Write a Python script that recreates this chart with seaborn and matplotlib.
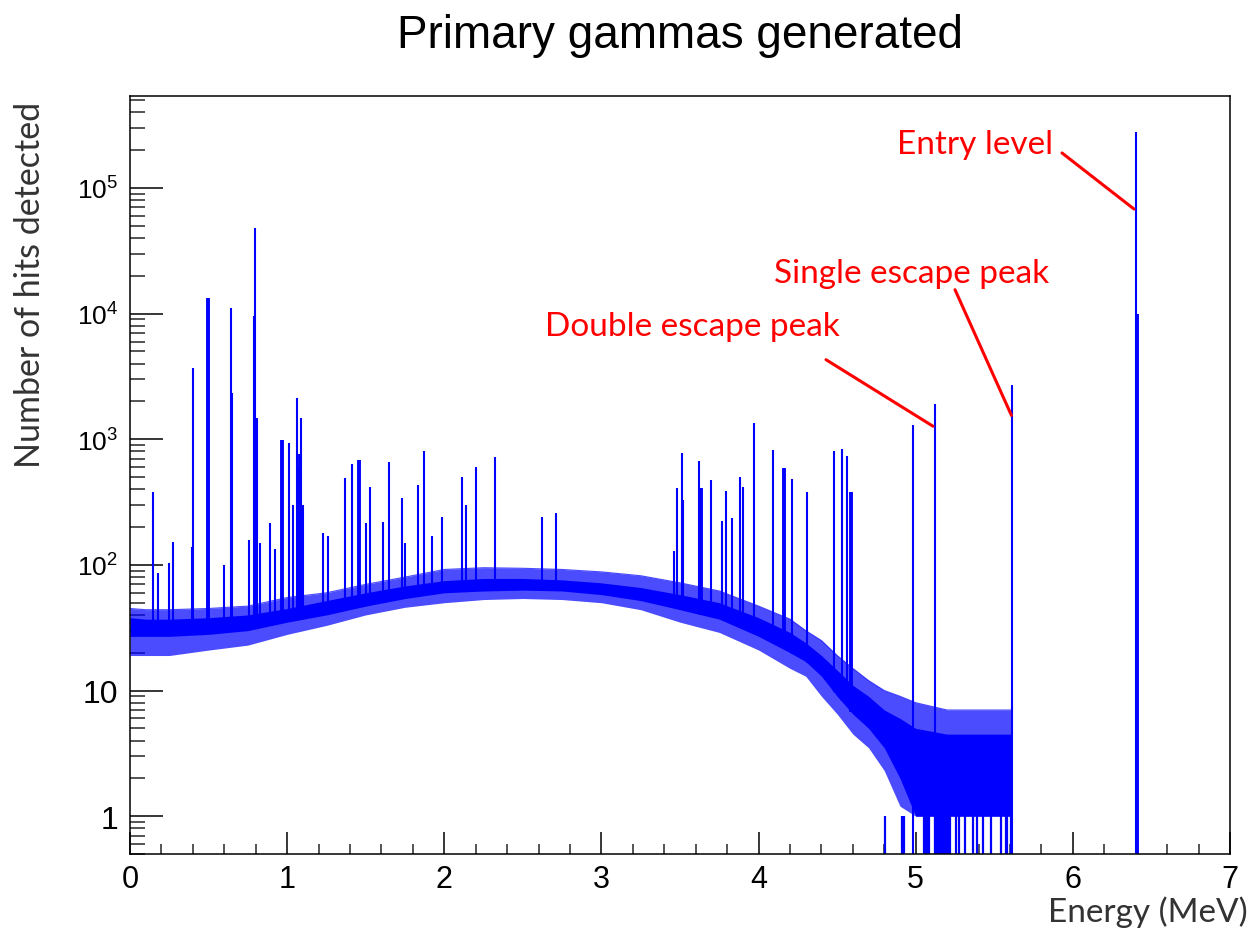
import numpy as np
import matplotlib
matplotlib.use("Agg")
import matplotlib.pyplot as plt
import seaborn as sns
from matplotlib.ticker import FixedLocator, FixedFormatter, NullFormatter, LogLocator

# ---------------- data ----------------
cont_energy = [0.0, 0.1, 0.25, 0.5, 0.75, 1.0, 1.25, 1.5, 1.75, 2.0, 2.25, 2.5, 2.75,
               3.0, 3.25, 3.5, 3.75, 4.0, 4.2, 4.3, 4.4, 4.5, 4.6, 4.7, 4.8, 4.9,
               5.0, 5.2, 5.4, 5.61]
cont_outer_high = [45, 44, 44, 45, 47, 55, 60, 70, 80, 92, 95, 94, 92, 88, 82, 72, 62,
                   47, 37, 30, 25, 19, 15, 12, 10, 9, 8, 7, 7, 7]
cont_core_high = [38, 37, 37, 38, 40, 45, 52, 60, 68, 75, 78, 78, 76, 72, 66, 58, 50,
                  38, 29, 24, 19, 14.5, 11, 9, 7, 6, 5, 4.5, 4.5, 4.5]
cont_core_low = [27, 27, 27, 28, 30, 35, 40, 47, 54, 60, 62, 63, 62, 58, 52, 44, 37,
                 27, 20, 17, 13, 9, 6.5, 5, 3.5, 2, 1, 1, 1, 1]
cont_outer_low = [19, 19, 19, 21, 23, 28, 33, 40, 46, 50, 53, 54, 53, 50, 44, 35, 29,
                  21, 15, 13, 9, 6.5, 4.5, 3.5, 2.3, 1.2, 1, 1, 1, 1]

line_energy = [0.148, 0.178, 0.25, 0.274, 0.395, 0.40, 0.60, 0.642, 0.652, 0.757, 0.786,
               0.796, 0.806, 0.83, 0.89, 0.92, 1.01, 1.04, 1.06, 1.07, 1.09, 1.10,
               1.23, 1.26, 1.37, 1.41, 1.50, 1.53, 1.61, 1.65, 1.73, 1.75, 1.83, 1.87,
               1.92, 1.985, 2.11, 2.14, 2.20, 2.32, 2.62, 2.71, 3.46, 3.48, 3.51, 3.52,
               3.62, 3.70, 3.77, 3.79, 3.83, 3.88, 3.90, 3.97, 4.09, 4.21, 4.31, 4.48,
               4.53, 4.56, 4.98, 5.12, 5.613, 6.40]
line_counts = [380, 86, 104, 152, 140, 3700, 100, 11000, 2350, 158, 9600,
               48000, 1470, 150, 215, 135, 940, 300, 2150, 600, 1470, 300,
               180, 170, 490, 640, 215, 415, 220, 660, 340, 150, 430, 800,
               170, 240, 500, 300, 600, 720, 240, 260, 130, 410, 780, 330,
               670, 470, 225, 390, 235, 500, 415, 1340, 820, 480, 380, 800,
               840, 740, 1300, 1900, 2700, 280000]

doublet_energy = [0.497, 0.965, 1.08, 1.46, 3.635, 4.16, 4.59, 6.405]
doublet_counts = [13400, 980, 770, 680, 410, 590, 380, 10000]

empty_bin_energy = [4.805, 4.914, 4.928, 5.052, 5.062, 5.072, 5.084, 5.125, 5.135,
                    5.145, 5.155, 5.165, 5.175, 5.185, 5.195, 5.205, 5.218, 5.254,
                    5.275, 5.314, 5.367, 5.393, 5.430, 5.477, 5.541, 5.573, 5.580,
                    5.605]

x_ticks = [0, 1, 2, 3, 4, 5, 6, 7]
y_ticks = [1, 10, 100, 1000, 10000, 100000]
y_tick_labels = ["1", "10", r"$10^{2}$", r"$10^{3}$", r"$10^{4}$", r"$10^{5}$"]

title = "Primary gammas generated"
x_label = "Energy (MeV)"
y_label = "Number of hits detected"

# ---------------- styling ----------------
sns.set_theme(style="ticks")
plt.rcParams["font.family"] = ["Liberation Sans", "DejaVu Sans"]
plt.rcParams["mathtext.fontset"] = "custom"
plt.rcParams["mathtext.rm"] = "Liberation Sans"
plt.rcParams["mathtext.it"] = "Liberation Sans:italic"

BLUE = "#0000FF"
RED = "#FF0000"
YMIN, YMAX = 0.5, 5.4e5

fig = plt.figure(figsize=(12.6, 9.37), dpi=100)
ax = fig.add_axes([0.1032, 0.0875, 0.873, 0.809])
ax.set_yscale("log")
ax.set_xlim(0, 7)
ax.set_ylim(YMIN, YMAX)

# continuum band
ax.fill_between(cont_energy, cont_outer_low, cont_outer_high, color=BLUE, alpha=0.7,
                linewidth=0)
ax.fill_between(cont_energy, cont_core_low, cont_core_high, color=BLUE, linewidth=0)
sns.lineplot(x=cont_energy, y=cont_outer_high, ax=ax, color=BLUE, linewidth=0.8,
             alpha=0.7)

# empty bins (zero counts) drawn down to the axis
ax.vlines(empty_bin_energy, YMIN, 1, color=BLUE, linewidth=1.6)

# peak lines
def base_for(e):
    if e >= 4.9:
        return YMIN
    return float(np.interp(e, cont_energy, cont_core_low))

ax.vlines(line_energy, [base_for(e) for e in line_energy], line_counts,
          color=BLUE, linewidth=1.5)
ax.vlines(doublet_energy, [base_for(e) for e in doublet_energy], doublet_counts,
          color=BLUE, linewidth=2.8)

# axes, ticks
for s in ax.spines.values():
    s.set_color("black")
    s.set_linewidth(1.1)
ax.xaxis.set_major_locator(FixedLocator(x_ticks))
ax.xaxis.set_minor_locator(FixedLocator(np.arange(0, 7.001, 0.2)))
ax.yaxis.set_major_locator(FixedLocator(y_ticks))
ax.yaxis.set_major_formatter(FixedFormatter(y_tick_labels))
ax.yaxis.set_minor_locator(LogLocator(base=10, subs=np.arange(2, 10), numticks=20))
ax.yaxis.set_minor_formatter(NullFormatter())
ax.tick_params(axis="x", which="major", direction="in", length=16, width=1.1,
               labelsize=22, pad=7, colors="black", top=False, bottom=True)
ax.tick_params(axis="x", which="minor", direction="in", length=7.5, width=1.1,
               top=False, bottom=True)
ax.tick_params(axis="y", which="major", direction="in", length=24, width=1.1,
               labelsize=23, pad=8.5, colors="black", left=True, right=False)
ax.tick_params(axis="y", which="minor", direction="in", length=11, width=1.1,
               left=True, right=False)
ax.grid(False)
fig.canvas.draw()
for lab in ax.get_yticklabels():
    if lab.get_text().startswith("$"):
        lab.set_fontsize(19)

# labels
fig.text(0.54, 0.962, title, ha="center", va="center", fontsize=33, color="black")
fig.text(0.911, 0.026, x_label, ha="center", va="center", fontsize=24,
         color="#333333", family=["Lato", "DejaVu Sans"])
fig.text(0.024, 0.696, y_label, ha="center", va="center", fontsize=24.5, rotation=90,
         color="#333333", family=["Lato", "DejaVu Sans"])

# annotations
ann_kw = dict(color=RED, fontsize=24, ha="center", va="center",
              family=["Lato", "DejaVu Sans"])
ax.text(5.377, 2.23e5, "Entry level", **ann_kw)
ax.text(4.976, 2.1e4, "Single escape peak", **ann_kw)
ax.text(3.576, 8.0e3, "Double escape peak", **ann_kw)
ax.plot([5.931, 6.389], [1.9e5, 6.8e4], color=RED, linewidth=2.2)
ax.plot([5.250, 5.609], [1.55e4, 1.55e3], color=RED, linewidth=2.2)
ax.plot([4.429, 5.110], [4.3e3, 1.27e3], color=RED, linewidth=2.2)

fig.savefig("out.png", dpi=100)
